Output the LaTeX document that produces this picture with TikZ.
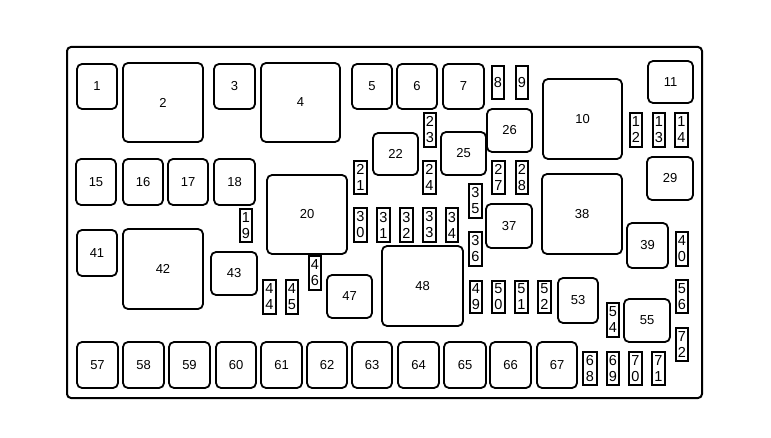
\documentclass[tikz,border=0pt]{standalone}
\usepackage{fontspec}
\setmainfont{Liberation Sans}
\tikzset{
  bigbox/.style={draw, line width=1.8pt, rounded corners=5pt, inner sep=0pt, font=\fontsize{13}{15}\selectfont},
  fusebox/.style={draw, line width=1.8pt, inner sep=0pt, align=center, font=\fontsize{14.5}{16}\selectfont},
  frame/.style={draw, line width=2pt, rounded corners=4pt}
}
\newcommand{\FB}[5]{\node[bigbox, minimum width={(#4-#2)*1pt}, minimum height={(#5-#3)*1pt}] (b#1) at ({(#2+#4)/2},{(#3+#5)/2}) {#1};}
\newcommand{\SF}[6]{\node[fusebox, minimum width={(#4-#2)*1pt}, minimum height={(#5-#3)*1pt}] (f#1) at ({(#2+#4)/2},{(#3+#5)/2}) {#6};}
\begin{document}
\begin{tikzpicture}[x=1pt,y=-1pt]
\useasboundingbox (0,0) rectangle (771,438);
\fill[white] (0,0) rectangle (771,438);
\draw[frame] (67,47) rectangle (702,398);
% big boxes
\FB{1}{77}{64}{117}{109}
\FB{2}{123}{63}{203}{142}
\FB{3}{214}{64}{255}{109}
\FB{4}{261}{63}{340}{142}
\FB{5}{352}{64}{392}{109}
\FB{6}{397}{64}{437}{109}
\FB{7}{443}{64}{484}{109}
\FB{10}{543}{79}{622}{159}
\FB{11}{648}{61}{693}{103}
\FB{15}{76}{159}{116}{205}
\FB{16}{123}{159}{163}{205}
\FB{17}{168}{159}{208}{205}
\FB{18}{214}{159}{255}{205}
\FB{20}{267}{175}{347}{254}
\FB{22}{373}{133}{418}{175}
\FB{25}{441}{132}{486}{175}
\FB{26}{487}{109}{532}{152}
\FB{29}{647}{157}{693}{200}
\FB{37}{486}{204}{532}{248}
\FB{38}{542}{174}{622}{254}
\FB{39}{627}{223}{668}{268}
\FB{41}{77}{230}{117}{276}
\FB{42}{123}{229}{203}{309}
\FB{43}{211}{252}{257}{295}
\FB{47}{327}{275}{372}{318}
\FB{48}{382}{246}{463}{326}
\FB{53}{558}{278}{598}{323}
\FB{55}{624}{299}{670}{342}
\FB{57}{77}{342}{118}{388}
\FB{58}{123}{342}{164}{388}
\FB{59}{169}{342}{210}{388}
\FB{60}{216}{342}{256}{388}
\FB{61}{261}{342}{302}{388}
\FB{62}{307}{342}{347}{388}
\FB{63}{352}{342}{392}{388}
\FB{64}{398}{342}{439}{388}
\FB{65}{444}{342}{486}{388}
\FB{66}{490}{342}{531}{388}
\FB{67}{537}{342}{577}{388}
% small fuses
\SF{8}{492}{66}{504}{99}{8}
\SF{9}{516}{66}{528}{99}{9}
\SF{12}{630}{113}{642}{147}{1\\2}
\SF{13}{653}{113}{665}{147}{1\\3}
\SF{14}{675}{113}{688}{147}{1\\4}
\SF{19}{240}{209}{252}{242}{1\\9}
\SF{21}{354}{161}{367}{194}{2\\1}
\SF{23}{424}{113}{436}{147}{2\\3}
\SF{24}{423}{161}{436}{194}{2\\4}
\SF{27}{492}{161}{505}{194}{2\\7}
\SF{28}{516}{161}{528}{194}{2\\8}
\SF{30}{354}{208}{367}{242}{3\\0}
\SF{31}{377}{208}{390}{242}{3\\1}
\SF{32}{400}{208}{413}{242}{3\\2}
\SF{33}{423}{208}{436}{242}{3\\3}
\SF{34}{446}{208}{458}{242}{3\\4}
\SF{35}{469}{184}{482}{218}{3\\5}
\SF{36}{469}{232}{482}{266}{3\\6}
\SF{40}{676}{232}{688}{266}{4\\0}
\SF{44}{263}{280}{276}{314}{4\\4}
\SF{45}{286}{280}{298}{314}{4\\5}
\SF{46}{309}{256}{321}{290}{4\\6}
\SF{49}{470}{281}{482}{313}{4\\9}
\SF{50}{492}{281}{505}{313}{5\\0}
\SF{51}{515}{281}{528}{313}{5\\1}
\SF{52}{538}{281}{551}{313}{5\\2}
\SF{54}{607}{303}{619}{337}{5\\4}
\SF{56}{676}{280}{688}{313}{5\\6}
\SF{68}{583}{352}{597}{385}{6\\8}
\SF{69}{607}{352}{619}{385}{6\\9}
\SF{70}{629}{352}{642}{385}{7\\0}
\SF{71}{652}{352}{665}{385}{7\\1}
\SF{72}{676}{328}{688}{361}{7\\2}
\end{tikzpicture}
\end{document}
